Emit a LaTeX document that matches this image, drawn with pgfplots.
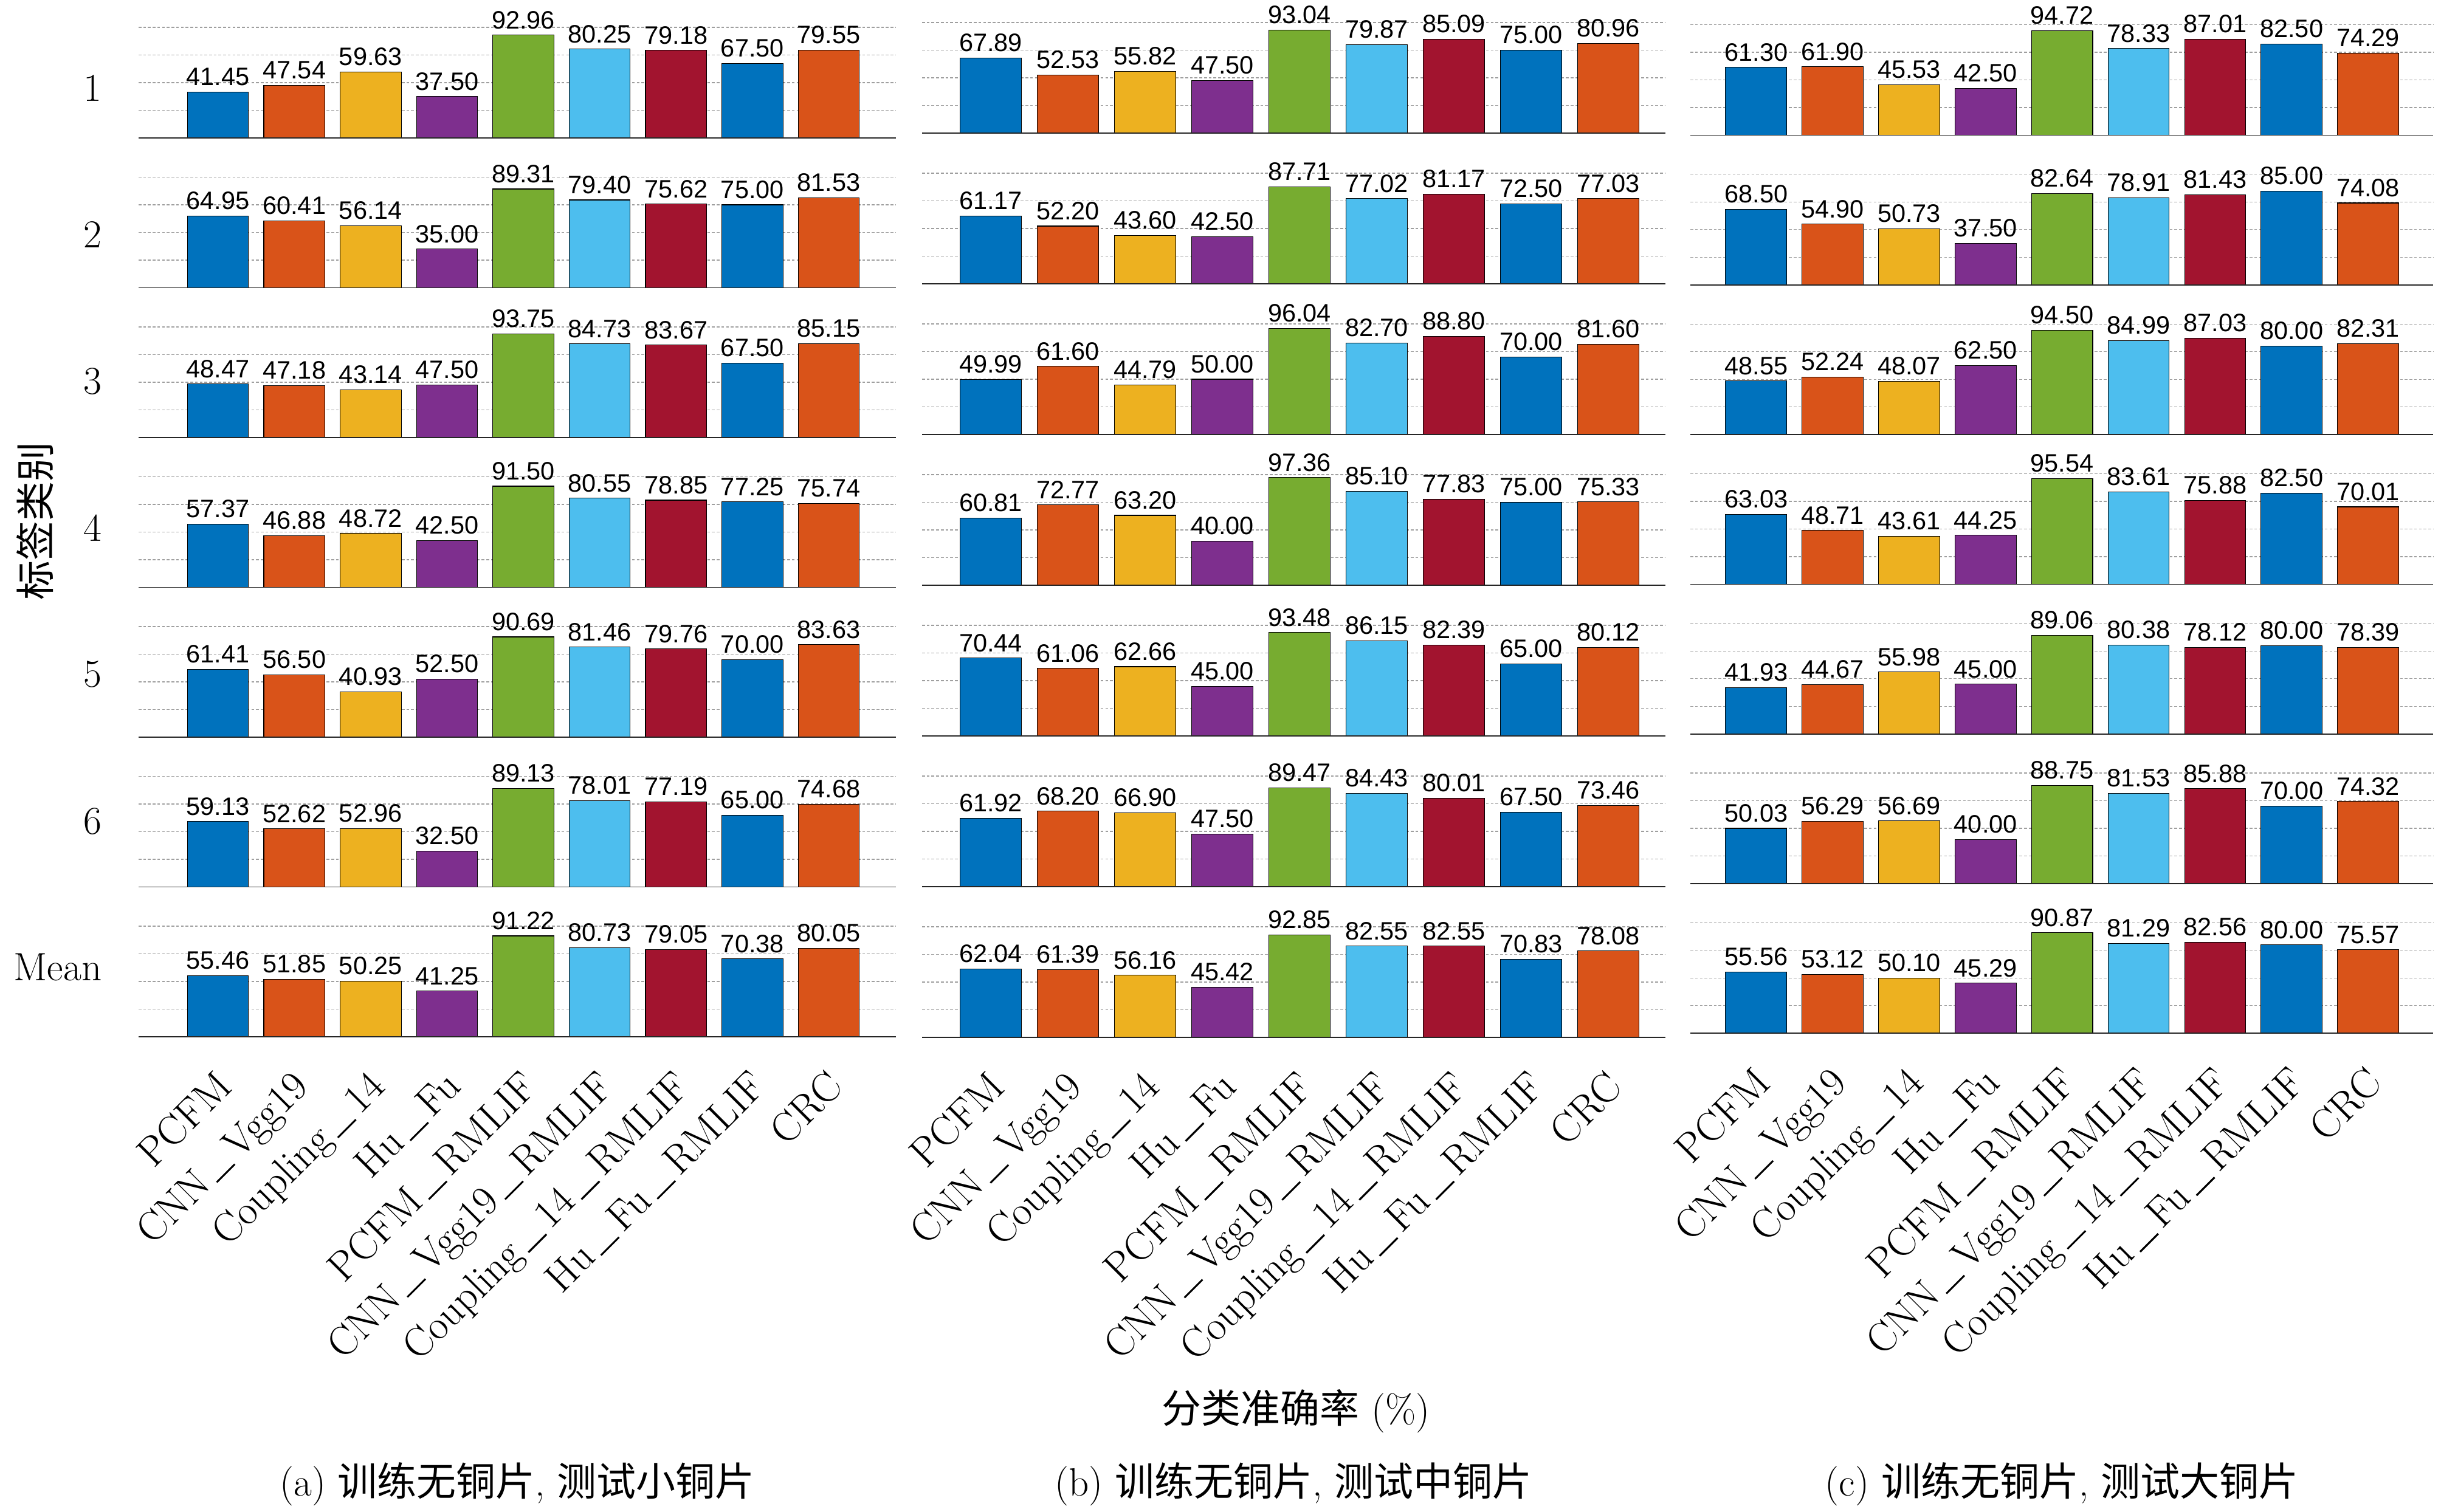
\documentclass[border=0pt]{standalone}
\usepackage{fontspec}
\usepackage{pgfplots}
\pgfplotsset{compat=1.18}
\usepackage{pgfplotstable}
\newfontfamily\cjk{Noto Sans CJK SC}
\newfontfamily\arialfont{Liberation Sans}
\newcommand{\lmf}{\fontsize{18.5}{22}\selectfont}
\newcommand{\xlf}{\fontsize{19.3}{22}\selectfont}
\newcommand{\us}{\kern0.14em\rule[-0.02em]{0.62em}{0.045em}\kern0.14em}

\definecolor{bc1}{RGB}{0,114,189}
\definecolor{bc2}{RGB}{217,83,25}
\definecolor{bc3}{RGB}{237,177,32}
\definecolor{bc4}{RGB}{126,47,142}
\definecolor{bc5}{RGB}{119,172,48}
\definecolor{bc6}{RGB}{77,190,238}
\definecolor{bc7}{RGB}{162,20,47}
\definecolor{bc8}{RGB}{0,114,189}
\definecolor{bc9}{RGB}{217,83,25}

\pgfplotstableread{
idx r1 r2 r3 r4 r5 r6 r7
1 41.45 64.95 48.47 57.37 61.41 59.13 55.46
2 47.54 60.41 47.18 46.88 56.50 52.62 51.85
3 59.63 56.14 43.14 48.72 40.93 52.96 50.25
4 37.50 35.00 47.50 42.50 52.50 32.50 41.25
5 92.96 89.31 93.75 91.50 90.69 89.13 91.22
6 80.25 79.40 84.73 80.55 81.46 78.01 80.73
7 79.18 75.62 83.67 78.85 79.76 77.19 79.05
8 67.50 75.00 67.50 77.25 70.00 65.00 70.38
9 79.55 81.53 85.15 75.74 83.63 74.68 80.05
}\tabA

\pgfplotstableread{
idx r1 r2 r3 r4 r5 r6 r7
1 67.89 61.17 49.99 60.81 70.44 61.92 62.04
2 52.53 52.20 61.60 72.77 61.06 68.20 61.39
3 55.82 43.60 44.79 63.20 62.66 66.90 56.16
4 47.50 42.50 50.00 40.00 45.00 47.50 45.42
5 93.04 87.71 96.04 97.36 93.48 89.47 92.85
6 79.87 77.02 82.70 85.10 86.15 84.43 82.55
7 85.09 81.17 88.80 77.83 82.39 80.01 82.55
8 75.00 72.50 70.00 75.00 65.00 67.50 70.83
9 80.96 77.03 81.60 75.33 80.12 73.46 78.08
}\tabB

\pgfplotstableread{
idx r1 r2 r3 r4 r5 r6 r7
1 61.30 68.50 48.55 63.03 41.93 50.03 55.56
2 61.90 54.90 52.24 48.71 44.67 56.29 53.12
3 45.53 50.73 48.07 43.61 55.98 56.69 50.10
4 42.50 37.50 62.50 44.25 45.00 40.00 45.29
5 94.72 82.64 94.50 95.54 89.06 88.75 90.87
6 78.33 78.91 84.99 83.61 80.38 81.53 81.29
7 87.01 81.43 87.03 75.88 78.12 85.88 82.56
8 82.50 85.00 80.00 82.50 80.00 70.00 80.00
9 74.29 74.08 82.31 70.01 78.39 74.32 75.57
}\tabC

\pgfplotsset{
  rowaxis/.style={
    scale only axis, height=1.82cm, ymin=0, ymax=100,
    anchor=south west,
    axis line style={draw=none},
    ytick={25,50,75,100}, yticklabels={,,,}, ymajorgrids,
    major grid style={color=gray!75, line width=0.35pt, dash pattern=on 1.3pt off 0.9pt},
    major tick length=0pt,
    xtick=\empty,
    ybar, bar width=0.8, bar shift=0pt,
    clip=false,
    point meta=y,
    nodes near coords={\pgfmathprintnumber[fixed,fixed zerofill,precision=2,assume math mode=true]{\pgfplotspointmeta}},
    every node near coord/.append style={font=\arialfont\fontsize{11.8}{12}\selectfont, inner sep=0pt, anchor=south, yshift=0.098cm, text=black},
  },
  lastrow/.style={
    xtick={1,...,9},
    xticklabels={PCFM,CNN\us Vgg19,Coupling\us 14,Hu\us Fu,PCFM\us RMLIF,CNN\us Vgg19\us RMLIF,Coupling\us 14\us RMLIF,Hu\us Fu\us RMLIF,CRC},
    x tick label style={font=\xlf, inner sep=0pt, xshift=-0.07cm, yshift=-0.51cm, rotate=45, anchor=north east},
  },
}

% #1 extra opts, #2 table, #3 column, #4 xmin, #5 xmax, #6 left (cm), #7 width (cm), #8 baseline (cm from top)
\newcommand{\barrow}[8][]{%
  \begin{axis}[rowaxis, at={(#6cm,-#8cm)}, width=#7cm, xmin=#4, xmax=#5, #1]
  \pgfplotsinvokeforeach{1,...,9}{%
    \addplot[fill=bc##1, draw=black, line width=0.3pt, restrict x to domain=##1:##1] table[x=idx, y=#3] {#2};
  }
  \draw[line width=0.5pt, black!85] (rel axis cs:0,0) -- (rel axis cs:1,0);
  \end{axis}}

\begin{document}
\begin{tikzpicture}
\path[use as bounding box] (0,0) rectangle (40.16cm,-24.87cm);

% Panel (a)
\barrow{\tabA}{r1}{-0.04}{9.88}{2.28}{12.46}{2.27}
\barrow{\tabA}{r2}{-0.04}{9.88}{2.28}{12.46}{4.735}
\barrow{\tabA}{r3}{-0.04}{9.88}{2.28}{12.46}{7.20}
\barrow{\tabA}{r4}{-0.04}{9.88}{2.28}{12.46}{9.665}
\barrow{\tabA}{r5}{-0.04}{9.88}{2.28}{12.46}{12.13}
\barrow{\tabA}{r6}{-0.04}{9.88}{2.28}{12.46}{14.595}
\barrow[lastrow]{\tabA}{r7}{-0.04}{9.88}{2.28}{12.46}{17.06}

% Panel (b)
\barrow{\tabB}{r1}{0.11}{9.74}{15.17}{12.23}{2.19}
\barrow{\tabB}{r2}{0.11}{9.74}{15.17}{12.23}{4.67}
\barrow{\tabB}{r3}{0.11}{9.74}{15.17}{12.23}{7.15}
\barrow{\tabB}{r4}{0.11}{9.74}{15.17}{12.23}{9.63}
\barrow{\tabB}{r5}{0.11}{9.74}{15.17}{12.23}{12.11}
\barrow{\tabB}{r6}{0.11}{9.74}{15.17}{12.23}{14.59}
\barrow[lastrow]{\tabB}{r7}{0.11}{9.74}{15.17}{12.23}{17.07}

% Panel (c)
\barrow{\tabC}{r1}{0.14}{9.85}{27.81}{12.22}{2.225}
\barrow{\tabC}{r2}{0.14}{9.85}{27.81}{12.22}{4.688}
\barrow{\tabC}{r3}{0.14}{9.85}{27.81}{12.22}{7.151}
\barrow{\tabC}{r4}{0.14}{9.85}{27.81}{12.22}{9.614}
\barrow{\tabC}{r5}{0.14}{9.85}{27.81}{12.22}{12.077}
\barrow{\tabC}{r6}{0.14}{9.85}{27.81}{12.22}{14.54}
\barrow[lastrow]{\tabC}{r7}{0.14}{9.85}{27.81}{12.22}{17.003}

% row labels
\node[anchor=east, font=\lmf, inner sep=0pt] at (1.68cm,-1.45cm) {1};
\node[anchor=east, font=\lmf, inner sep=0pt] at (1.68cm,-3.862cm) {2};
\node[anchor=east, font=\lmf, inner sep=0pt] at (1.68cm,-6.274cm) {3};
\node[anchor=east, font=\lmf, inner sep=0pt] at (1.68cm,-8.686cm) {4};
\node[anchor=east, font=\lmf, inner sep=0pt] at (1.68cm,-11.098cm) {5};
\node[anchor=east, font=\lmf, inner sep=0pt] at (1.68cm,-13.51cm) {6};
\node[anchor=east, font=\lmf, inner sep=0pt] at (1.68cm,-15.92cm) {Mean};

\node[rotate=90, font=\cjk\lmf, inner sep=0pt] at (0.58cm,-8.57cm) {标签类别};
\node[font=\lmf, inner sep=0pt] at (21.32cm,-23.22cm) {{\cjk 分类准确率} (\%)};

\node[font=\lmf, inner sep=0pt] at (8.51cm,-24.42cm) {(a) {\cjk 训练无铜片}, {\cjk 测试小铜片}};
\node[font=\lmf, inner sep=0pt] at (21.28cm,-24.42cm) {(b) {\cjk 训练无铜片}, {\cjk 测试中铜片}};
\node[font=\lmf, inner sep=0pt] at (33.92cm,-24.42cm) {(c) {\cjk 训练无铜片}, {\cjk 测试大铜片}};
\end{tikzpicture}
\end{document}
